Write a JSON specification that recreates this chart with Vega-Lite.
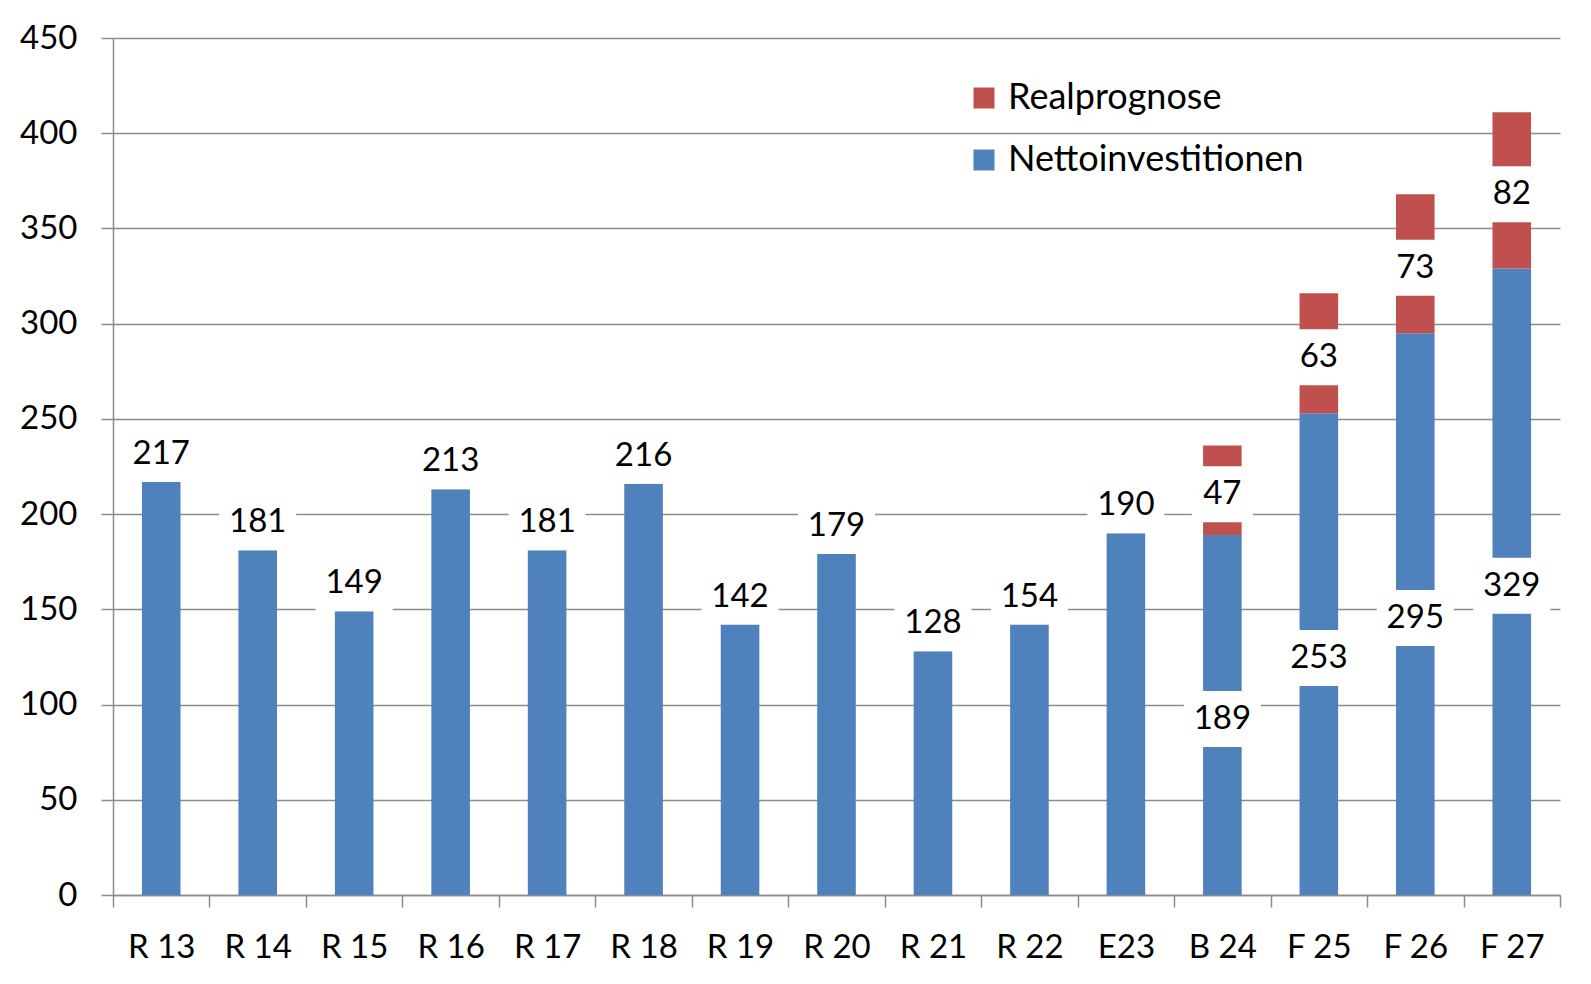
{
  "$schema": "https://vega.github.io/schema/vega-lite/v6.json",
  "width": 1447,
  "height": 857,
  "autosize": {"type": "none"},
  "padding": {"left": 113, "top": 38, "right": 31, "bottom": 89},
  "background": "white",
  "config": {"view": {"stroke": null}, "font": "Lato"},
  "data": {
    "values": [
      {"cat": "R 13", "series": "Nettoinvestitionen", "value": 217, "label": 217},
      {"cat": "R 14", "series": "Nettoinvestitionen", "value": 181, "label": 181},
      {"cat": "R 15", "series": "Nettoinvestitionen", "value": 149, "label": 149},
      {"cat": "R 16", "series": "Nettoinvestitionen", "value": 213, "label": 213},
      {"cat": "R 17", "series": "Nettoinvestitionen", "value": 181, "label": 181},
      {"cat": "R 18", "series": "Nettoinvestitionen", "value": 216, "label": 216},
      {"cat": "R 19", "series": "Nettoinvestitionen", "value": 142, "label": 142},
      {"cat": "R 20", "series": "Nettoinvestitionen", "value": 179, "label": 179},
      {"cat": "R 21", "series": "Nettoinvestitionen", "value": 128, "label": 128},
      {"cat": "R 22", "series": "Nettoinvestitionen", "value": 142, "label": 154},
      {"cat": "E23", "series": "Nettoinvestitionen", "value": 190, "label": 190},
      {"cat": "B 24", "series": "Nettoinvestitionen", "value": 189, "label": 189},
      {"cat": "B 24", "series": "Realprognose", "value": 47, "label": 47},
      {"cat": "F 25", "series": "Nettoinvestitionen", "value": 253, "label": 253},
      {"cat": "F 25", "series": "Realprognose", "value": 63, "label": 63},
      {"cat": "F 26", "series": "Nettoinvestitionen", "value": 295, "label": 295},
      {"cat": "F 26", "series": "Realprognose", "value": 73, "label": 73},
      {"cat": "F 27", "series": "Nettoinvestitionen", "value": 329, "label": 329},
      {"cat": "F 27", "series": "Realprognose", "value": 82, "label": 82}
    ]
  },
  "encoding": {
    "x": {
      "field": "cat",
      "type": "nominal",
      "sort": null,
      "scale": {"paddingInner": 0, "paddingOuter": 0},
      "axis": {
        "title": null,
        "tickBand": "extent",
        "labelAngle": 0,
        "labelFont": "Lato",
        "labelFontSize": 33,
        "labelColor": "black",
        "labelBaseline": "middle",
        "labelPadding": 40,
        "tickSize": 12,
        "tickWidth": 1.5,
        "tickColor": "#8c8c8c",
        "domainColor": "#8c8c8c",
        "domainWidth": 1.5,
        "grid": false
      }
    }
  },
  "layer": [
    {
      "mark": {"type": "bar", "width": {"band": 0.4}},
      "encoding": {
        "y": {
          "field": "value",
          "type": "quantitative",
          "stack": "zero",
          "scale": {"domain": [0, 450], "nice": false},
          "axis": {
            "title": null,
            "values": [0, 50, 100, 150, 200, 250, 300, 350, 400, 450],
            "grid": true,
            "gridColor": "#8c8c8c",
            "gridWidth": 1.5,
            "domainColor": "#8c8c8c",
            "domainWidth": 1.5,
            "tickColor": "#8c8c8c",
            "tickWidth": 1.5,
            "tickSize": 12,
            "labelFont": "Lato",
            "labelFontSize": 33,
            "labelColor": "black",
            "labelPadding": 24
          }
        },
        "color": {
          "field": "series",
          "type": "nominal",
          "scale": {"domain": ["Realprognose", "Nettoinvestitionen"], "range": ["#C0504D", "#4F81BD"]},
          "legend": {
            "title": null,
            "orient": "none",
            "legendX": 853,
            "legendY": 42,
            "padding": 0,
            "symbolType": "square",
            "symbolSize": 441,
            "symbolStrokeWidth": 0,
            "symbolOffset": 0,
            "labelFont": "Lato",
            "labelFontSize": 36,
            "labelColor": "black",
            "labelOffset": 6,
            "labelLimit": 0,
            "rowPadding": 26
          }
        },
        "order": {"field": "series", "sort": "ascending"}
      }
    },
    {
      "transform": [{"filter": {"field": "cat", "oneOf": ["B 24", "F 25", "F 26", "F 27"]}}],
      "mark": {"type": "point", "filled": true, "fill": "white", "opacity": 1, "strokeWidth": 0, "size": 3136, "yOffset": 4},
      "encoding": {
        "y": {"field": "value", "type": "quantitative", "stack": "zero", "bandPosition": 0.5},
        "shape": {"condition": {"test": "datum.value >= 100", "value": "M-1.375,-1H1.375V1H-1.375Z"}, "value": "M-1.09,-1H1.09V1H-1.09Z"},
        "detail": {"field": "series"},
        "order": {"field": "series", "sort": "ascending"}
      }
    },
    {
      "transform": [{"filter": {"field": "cat", "oneOf": ["B 24", "F 25", "F 26", "F 27"]}}],
      "mark": {"type": "text", "font": "Lato", "fontSize": 33, "baseline": "middle", "color": "black", "dy": 4},
      "encoding": {
        "y": {"field": "value", "type": "quantitative", "stack": "zero", "bandPosition": 0.5},
        "text": {"field": "label", "type": "quantitative"},
        "detail": {"field": "series"},
        "order": {"field": "series", "sort": "ascending"}
      }
    },
    {
      "transform": [{"filter": {"not": {"field": "cat", "oneOf": ["B 24", "F 25", "F 26", "F 27"]}}}],
      "mark": {"type": "point", "filled": true, "fill": "white", "opacity": 1, "strokeWidth": 0, "size": 3136, "shape": "M-1.375,-1H1.375V1H-1.375Z", "yOffset": -28},
      "encoding": {
        "y": {"field": "value", "type": "quantitative"}
      }
    },
    {
      "transform": [{"filter": {"not": {"field": "cat", "oneOf": ["B 24", "F 25", "F 26", "F 27"]}}}],
      "mark": {"type": "text", "font": "Lato", "fontSize": 33, "baseline": "middle", "color": "black", "dy": -28},
      "encoding": {
        "y": {"field": "value", "type": "quantitative"},
        "text": {"field": "label", "type": "quantitative"}
      }
    }
  ]
}
